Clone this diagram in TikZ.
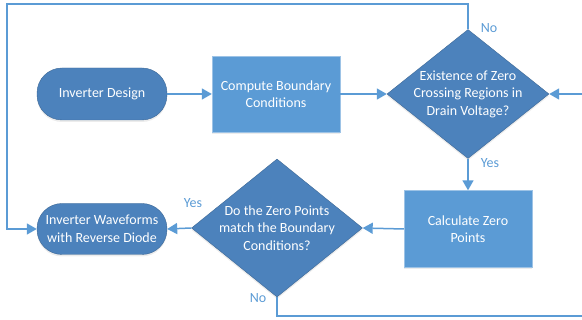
\documentclass[tikz,border=0pt]{standalone}
\usepackage{fontspec}
\setmainfont{Carlito}
\usetikzlibrary{shapes.geometric,arrows.meta,shadows}
\definecolor{darkblue}{RGB}{76,130,188}
\definecolor{lightblue}{RGB}{91,155,213}
\definecolor{linkblue}{RGB}{91,155,213}
\tikzset{
  fnt/.style={font=\fontsize{14}{17.5}\selectfont},
  term/.style={fnt,draw=darkblue!80!black,fill=darkblue,text=white,rounded corners=25pt,
    minimum width=130pt,minimum height=52pt,align=center,
    drop shadow={opacity=0.15,shadow xshift=0pt,shadow yshift=-2pt}},
  proc/.style={fnt,draw=lightblue!60!white,fill=lightblue,text=white,
    minimum width=128pt,minimum height=76pt,align=center,
    drop shadow={opacity=0.15,shadow xshift=0pt,shadow yshift=-2pt}},
  dec/.style={diamond,draw=darkblue!80!black,fill=darkblue,inner sep=0pt,aspect=1,
    drop shadow={opacity=0.15,shadow xshift=0pt,shadow yshift=-2pt}},
  txt/.style={fnt,text=white,align=center},
  flow/.style={draw=linkblue,line width=1.5pt,-{Triangle[length=10pt,width=11pt]}},
  lbl/.style={fnt,text=linkblue}
}
\begin{document}
\begin{tikzpicture}[x=1pt,y=-1pt]
  \clip (0,0) rectangle (582,320);
  \node[term] (design) at (102,94) {Inverter Design};
  \node[proc] (compute) at (276,94) {Compute Boundary\\Conditions};
  \node[dec,minimum width=162pt,minimum height=129pt,
    label={[txt]center:Existence of Zero\\Crossing Regions in\\Drain Voltage?}] (exist) at (468,94) {};
  \node[proc,minimum height=77pt] (calc) at (468,229) {Calculate Zero\\Points};
  \node[dec,minimum width=171pt,minimum height=138pt,
    label={[txt]center:Do the Zero Points\\match the Boundary\\Conditions?}] (match) at (277,228) {};
  \node[term,minimum height=51pt] (wave) at (102,229) {Inverter Waveforms\\with Reverse Diode};
  % loop corners
  \coordinate (tl) at (7,4);
  \coordinate (br) at (590,316);
  \draw[flow] (design) -- (compute);
  \draw[flow] (compute) -- (exist);
  \draw[flow] (exist.south) -- (calc.north);
  \draw[flow] (calc.west) -- (match.east);
  \draw[flow] (match.west) -- (wave.east);
  \draw[flow] (exist.north) |- (tl) |- (wave.west);
  \draw[flow] (match.south) |- (br) |- (exist.east);
  \node[lbl] (no1) at (489,28) {No};
  \node[lbl] (yes1) at (490,163) {Yes};
  \node[lbl] (yes2) at (193,203) {Yes};
  \node[lbl] (no2) at (258,298) {No};
\end{tikzpicture}
\end{document}
